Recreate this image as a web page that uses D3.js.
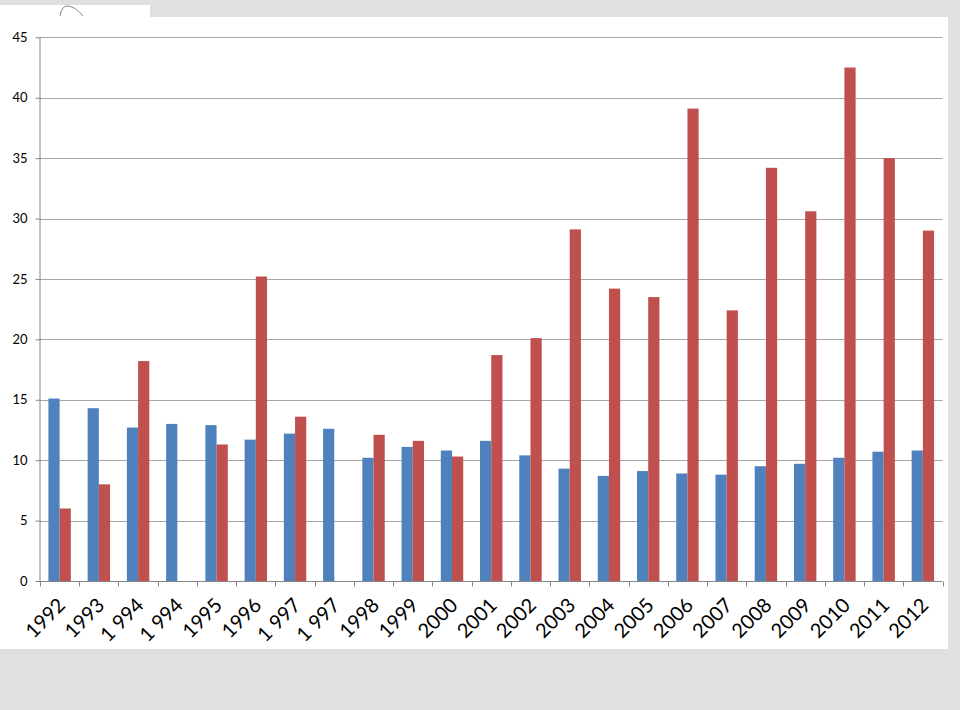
<!DOCTYPE html>
<html><head><meta charset="utf-8">
<script src="https://cdn.jsdelivr.net/npm/d3@7/dist/d3.min.js"></script>
<style>
html,body{margin:0;padding:0;background:#e0e0e0;}
svg{display:block;}
</style></head>
<body>
<svg id="c" width="960" height="710"></svg>
<script>
const categories = ["1992","1993","1 994","1 994","1995","1996","1 997","1 997","1998","1999","2000","2001","2002","2003","2004","2005","2006","2007","2008","2009","2010","2011","2012"];
const seriesBlue = [15.1,14.3,12.7,13.0,12.9,11.7,12.2,12.6,10.2,11.1,10.8,11.6,10.4,9.3,8.7,9.1,8.9,8.8,9.5,9.7,10.2,10.7,10.8];
const seriesRed  = [6.0,8.0,18.2,null,11.3,25.2,13.6,null,12.1,11.6,10.3,18.7,20.1,29.1,24.2,23.5,39.1,22.4,34.2,30.6,42.5,35.0,29.0];
const yTicks = [0,5,10,15,20,25,30,35,40,45];

(function(){
const FONT = "Lato, 'Open Sans', sans-serif";
const svg = d3.select("#c");
svg.append("rect").attr("x",0).attr("y",0).attr("width",960).attr("height",710).attr("fill","#e0e0e0");
svg.append("rect").attr("x",0).attr("y",5).attr("width",150).attr("height",14).attr("fill","#ffffff");
svg.append("rect").attr("x",0).attr("y",17).attr("width",948).attr("height",632).attr("fill","#ffffff");
svg.append("path").attr("d","M60,16 Q62,5 68,6 Q76,7 83,16").attr("fill","none").attr("stroke","#8a8a8a").attr("stroke-width",1);

const pLeft = 40, pRight = 942.5, pTop = 37.3, pBottom = 581;
const x = d3.scaleBand().domain(d3.range(categories.length)).range([pLeft,pRight]).padding(0);
const y = d3.scaleLinear().domain([0,45]).range([pBottom,pTop]);

svg.append("g").selectAll("line").data(yTicks.filter(d=>d>0)).join("line")
  .attr("x1",pLeft).attr("x2",pRight)
  .attr("y1",d=>Math.round(y(d))+0.5).attr("y2",d=>Math.round(y(d))+0.5)
  .attr("stroke","#a6a6a6").attr("stroke-width",1);

const bw = x.bandwidth()/3.5;
const off = x.bandwidth()*0.75/3.5;

const g = svg.append("g");
g.selectAll("rect.b").data(seriesBlue.map((v,i)=>({v,i}))).join("rect")
  .attr("class","b")
  .attr("x",d=>x(d.i)+off).attr("width",bw)
  .attr("y",d=>y(d.v)).attr("height",d=>y(0)-y(d.v))
  .attr("fill","#4f81bd");
g.selectAll("rect.r").data(seriesRed.map((v,i)=>({v,i})).filter(d=>d.v!=null)).join("rect")
  .attr("class","r")
  .attr("x",d=>x(d.i)+off+bw).attr("width",bw)
  .attr("y",d=>y(d.v)).attr("height",d=>y(0)-y(d.v))
  .attr("fill","#c0504d");

const yAxis = d3.axisLeft(y).tickValues(yTicks).tickSize(5).tickPadding(8).tickFormat(d3.format("d"));
const ya = svg.append("g").attr("transform",`translate(${pLeft+0.5},0)`).call(yAxis);
ya.select(".domain").attr("stroke","#868686").attr("d",`M-0.5,${pTop}V${pBottom}`);
ya.selectAll(".tick line").attr("stroke","#868686");
ya.selectAll(".tick text").attr("font-family",FONT).attr("font-size",13).attr("fill","#000");

const xa = svg.append("g").attr("transform",`translate(0,${pBottom+0.5})`);
xa.append("line").attr("x1",pLeft).attr("x2",pRight).attr("y1",0).attr("y2",0).attr("stroke","#868686");
const bounds = d3.range(categories.length+1).map(i=> i<categories.length ? x(i) : pRight);
xa.selectAll("line.t").data(bounds).join("line").attr("class","t")
  .attr("x1",d=>Math.round(d)+0.5).attr("x2",d=>Math.round(d)+0.5).attr("y1",0).attr("y2",5)
  .attr("stroke","#868686");
xa.selectAll("text").data(categories.map((c,i)=>({c,i}))).join("text")
  .attr("transform",d=>`translate(${x(d.i)+x.bandwidth()/2+2},${20}) rotate(-45)`)
  .attr("text-anchor","end")
  .attr("font-family",FONT).attr("font-size",20).attr("fill","#000")
  .attr("dy","0.35em")
  .text(d=>d.c);
})();
</script>
</body></html>
